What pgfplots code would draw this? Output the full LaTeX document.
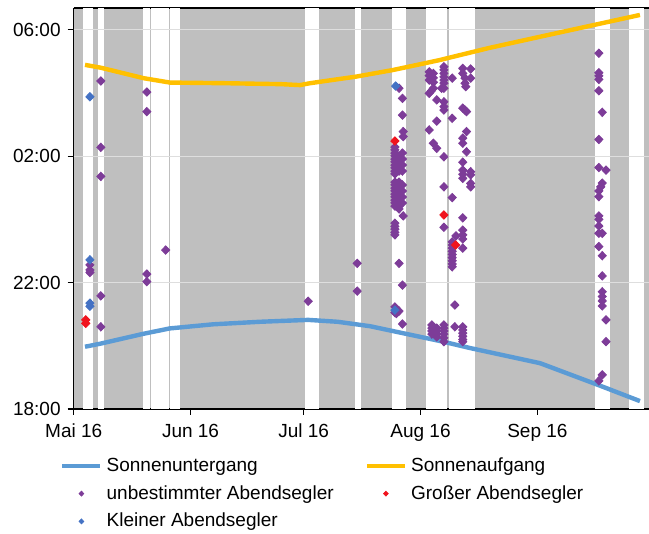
\documentclass[border=0pt]{standalone}
\usepackage{pgfplots}
\pgfplotsset{compat=1.18}
\usepackage{fontspec}
\setmainfont{Liberation Sans}
\definecolor{bggrey}{RGB}{191,191,191}
\definecolor{gridgrey}{RGB}{222,222,222}
\definecolor{sunset}{RGB}{91,155,213}
\definecolor{sunrise}{RGB}{255,192,0}
\definecolor{purp}{RGB}{125,60,152}
\definecolor{redm}{RGB}{240,20,30}
\definecolor{bluem}{RGB}{68,114,196}
\begin{document}
\begin{tikzpicture}
\useasboundingbox (-36.85pt,-62.5pt) rectangle (287.65pt,204.5pt);
\begin{axis}[
  scale only axis, width=287.65pt, height=200.5pt,
  xmin=0, xmax=152.6, ymin=18, ymax=30.69,
  axis background/.style={fill=bggrey},
  axis x line*=box, axis y line*=left,
  axis line style={black, line width=0.8pt},
  xtick pos=left,
  tick align=outside, major tick length=3pt,
  tick style={black, line width=0.6pt},
  xtick={0,31,61,92,123},
  xticklabels={Mai 16,Jun 16,Jul 16,Aug 16,Sep 16},
  ytick={18,22,26,30},
  yticklabels={18:00,22:00,02:00,06:00},
  xticklabel style={yshift=-1pt},
  tick label style={font=\fontsize{9.5}{11}\selectfont},
  legend cell align=left,
  legend image code/.code={\draw[mark repeat=2,mark phase=2,#1] plot coordinates {(0pt,0pt) (9.5pt,0pt) (19pt,0pt)};},
  legend image post style={mark size=1.2pt},
  legend style={draw=none, fill=none, at={(axis description cs:-0.0345,-0.10)}, anchor=north west,
    legend columns=2, font=\fontsize{9.5}{11}\selectfont,
    /tikz/every even column/.append style={column sep=13.5pt}, row sep=1.5pt},
  mark options={xscale=1.3},
]
% recording gaps (white)
\addplot[draw=none, fill=white, forget plot] coordinates {(2.39,18) (2.39,30.69) (5.20,30.69) (5.20,18)};
\addplot[draw=none, fill=white, forget plot] coordinates {(6.53,18) (6.53,30.69) (8.12,30.69) (8.12,18)};
\addplot[draw=none, fill=white, forget plot] coordinates {(18.46,18) (18.46,30.69) (20.32,30.69) (20.32,18)};
\addplot[draw=none, fill=white, forget plot] coordinates {(20.55,18) (20.55,30.69) (25.28,30.69) (25.28,18)};
\addplot[draw=none, fill=white, forget plot] coordinates {(25.50,18) (25.50,30.69) (28.20,30.69) (28.20,18)};
\addplot[draw=none, fill=white, forget plot] coordinates {(61.35,18) (61.35,30.69) (63.08,30.69) (63.08,18)};
\addplot[draw=none, fill=white, forget plot] coordinates {(63.34,18) (63.34,30.69) (65.07,30.69) (65.07,18)};
\addplot[draw=none, fill=white, forget plot] coordinates {(74.62,18) (74.62,30.69) (76.13,30.69) (76.13,18)};
\addplot[draw=none, fill=white, forget plot] coordinates {(84.51,18) (84.51,30.69) (88.14,30.69) (88.14,18)};
\addplot[draw=none, fill=white, forget plot] coordinates {(93.45,18) (93.45,30.69) (99.15,30.69) (99.15,18)};
\addplot[draw=none, fill=white, forget plot] coordinates {(99.42,18) (99.42,30.69) (106.45,30.69) (106.45,18)};
\addplot[draw=none, fill=white, forget plot] coordinates {(138.28,18) (138.28,30.69) (142.26,30.69) (142.26,18)};
\addplot[draw=none, fill=white, forget plot] coordinates {(147.37,18) (147.37,30.69) (151.27,30.69) (151.27,18)};
% horizontal grid lines
\addplot[gridgrey, line width=0.6pt, forget plot] coordinates {(0,22) (152.6,22)};
\addplot[gridgrey, line width=0.6pt, forget plot] coordinates {(0,26) (152.6,26)};
\addplot[gridgrey, line width=0.6pt, forget plot] coordinates {(0,30) (152.6,30)};

% Sonnenuntergang
\addplot[sunset, line width=2.2pt, no marks] coordinates {
(3.0,19.97) (7.2,20.07) (18.5,20.38) (25.5,20.55) (37,20.68) (49.4,20.76) (62.2,20.82) (70,20.76) (78.6,20.62) (86.5,20.42) (98,20.13) (105.1,19.93) (123.7,19.45) (140,18.72) (150.2,18.25)};
\addlegendentry{Sonnenuntergang}
% Sonnenaufgang
\addplot[sunrise, line width=2.2pt, no marks] coordinates {
(3.0,28.89) (7.2,28.80) (18.5,28.47) (25.5,28.33) (40,28.31) (55,28.28) (60,28.25) (62.7,28.31) (75,28.52) (84.8,28.73) (97,29.04) (110,29.42) (123.7,29.78) (150.2,30.47)};
\addlegendentry{Sonnenaufgang}

% unbestimmter Abendsegler
\addplot[only marks, mark=diamond*, mark size=2.1pt, color=purp] coordinates {
(4.3,22.56) (4.3,22.40) (4.3,22.32)
(7.2,28.38) (7.2,26.28) (7.2,25.36) (7.2,21.58) (7.2,20.60)
(19.4,28.03) (19.4,27.41) (24.4,23.03) (19.4,22.27) (19.4,22.03)
(62.2,21.41) (75.2,22.61) (75.2,21.73)
(86.3,28.15) (87.2,27.83) (87.2,27.30) (87.4,26.78) (87.4,26.62)
(85.2,26.29) (85.2,26.20) (85.2,26.10) (85.2,26.01) (85.2,25.91) (85.2,25.82) (85.2,25.72) (85.2,25.63) (85.2,25.53) (85.2,25.44)
(86.3,26.01) (86.3,25.91) (86.3,25.82) (86.3,25.72) (86.3,25.63) (86.3,25.53)
(87.2,26.10) (87.2,25.91) (87.2,25.72) (87.2,25.53)
(85.2,25.18) (85.2,25.09) (85.2,24.99) (85.2,24.90) (85.2,24.80) (85.2,24.71) (85.2,24.61) (85.2,24.52) (85.2,24.42)
(86.3,25.18) (86.3,25.09) (86.3,24.99) (86.3,24.90) (86.3,24.80) (86.3,24.71) (86.3,24.61) (86.3,24.52) (86.3,24.42) (86.3,24.33)
(87.2,25.09) (87.2,24.90) (87.2,24.71) (87.2,24.52)
(87.4,24.11)
(85.2,23.88) (85.2,23.78) (85.2,23.69) (85.2,23.59) (85.2,23.51)
(86.3,22.61) (87.2,21.92)
(85.2,21.23) (85.6,21.02) (86.3,21.10) (85.2,21.05) (87.2,20.69)
(94.3,28.67) (95.4,28.62) (94.3,28.55) (95.4,28.48) (94.3,28.41) (95.4,28.34) (95.4,28.15) (94.8,28.06) (94.3,27.99)
(96.3,27.78)
(98.2,28.83) (98.2,28.73) (98.2,28.62) (98.2,28.51) (98.2,28.41) (98.2,28.31) (98.2,28.15) (97.6,28.15)
(98.2,27.72) (98.2,27.57) (98.2,27.46)
(100.4,28.47) (96.3,27.11) (100.4,27.20) (94.3,26.83) (95.4,26.41) (96.3,26.25) (98.2,25.98) (98.2,25.03) (100.4,24.69)
(103.2,28.78) (103.2,28.62) (103.8,28.47) (103.8,28.31) (104.0,28.20)
(105.3,28.76) (105.3,28.47)
(103.2,27.52) (103.8,27.46) (104.2,27.41)
(104.2,26.78) (103.2,26.57) (103.2,26.41) (104.2,26.14) (103.2,25.81)
(103.2,25.56) (103.2,25.43) (103.2,25.30) (105.3,25.51) (105.3,25.41) (105.3,25.14) (105.3,25.03)
(98.2,23.75) (103.2,24.05) (101.4,23.48)
(103.2,23.66) (103.2,23.51) (103.2,23.38) (103.2,23.09)
(100.4,23.29) (100.4,23.19) (100.4,23.09) (100.4,22.99) (100.4,22.89) (100.4,22.79) (100.4,22.69) (100.4,22.59) (100.4,22.50)
(101.1,21.29) (101.1,20.60)
(95.0,20.66) (95.0,20.56) (95.0,20.47) (95.0,20.37)
(96.3,20.56) (96.3,20.47) (96.3,20.37) (96.3,20.28)
(98.2,20.66) (98.2,20.56) (98.2,20.47) (98.2,20.37) (98.2,20.25) (98.2,20.13)
(103.2,20.60) (103.2,20.50) (103.2,20.40) (103.2,20.30) (103.2,20.20) (103.2,20.13)
(139.3,29.26) (139.3,28.64) (139.3,28.54) (139.3,28.43) (139.3,28.07) (140.2,27.39) (139.3,26.53)
(139.3,25.64) (141.2,25.56) (140.2,25.15) (139.8,25.03) (139.3,24.90) (139.3,24.72)
(139.3,24.11) (139.3,24.00) (139.3,23.79) (139.3,23.56) (140.2,23.56) (139.3,23.14) (140.2,22.85)
(140.2,22.21) (140.2,21.71) (140.2,21.56) (140.2,21.42) (140.2,21.26) (141.2,20.82) (141.2,20.13)
(140.2,19.08) (139.3,18.89)
};
\addlegendentry{unbestimmter Abendsegler}
% Grosser Abendsegler
\addplot[only marks, mark=diamond*, mark size=2.1pt, color=redm] coordinates {
(3.2,20.82) (3.2,20.71) (85.2,26.48) (98.2,24.14) (101.3,23.19)};
\addlegendentry{Großer Abendsegler}
% Kleiner Abendsegler
\addplot[only marks, mark=diamond*, mark size=2.1pt, color=bluem] coordinates {
(4.3,27.88) (4.3,22.72) (4.3,21.35) (4.3,21.25) (85.4,28.22) (85.2,21.13)};
\addlegendentry{Kleiner Abendsegler}
\end{axis}
\end{tikzpicture}
\end{document}
